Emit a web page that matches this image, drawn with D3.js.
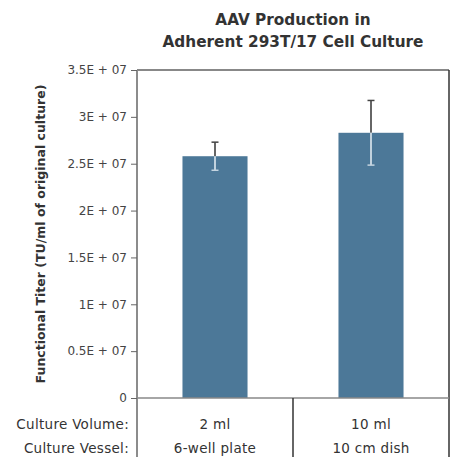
<!DOCTYPE html>
<html lang="en">
<head>
<meta charset="UTF-8">
<title>AAV Production</title>
<script src="https://d3js.org/d3.v7.min.js"></script>
<style>
    body { margin: 0; background: #fff; }
    text { font-family: "DejaVu Sans", sans-serif; }
    .tick text { fill: #444; font-size: 12px; }
    .title { font-weight: bold; font-size: 15.3px; fill: #333; }
    .ylab { font-weight: bold; font-size: 12.5px; fill: #333; }
    .tbl { font-size: 13.5px; fill: #333; letter-spacing: 0.3px; }
</style>
</head>
<body>
<svg width="457" height="457"></svg>
<script>
    // chart data
    var volumes  = ["2 ml", "10 ml"];
    var vessels  = ["6-well plate", "10 cm dish"];
    var titers   = [2.58e7, 2.83e7];
    var errors   = [0.15e7, 0.345e7];
    var tickVals = [0, 0.5e7, 1e7, 1.5e7, 2e7, 2.5e7, 3e7, 3.5e7];
    var tickLbls = ["0", "0.5E + 07", "1E + 07", "1.5E + 07", "2E + 07", "2.5E + 07", "3E + 07", "3.5E + 07"];

    var svg = d3.select("svg");
    var pLeft = 137, pRight = 449, pTop = 70, pBottom = 398;

    var x = d3.scaleBand().domain(volumes).range([pLeft, pRight])
        .paddingInner(0.583).paddingOuter(0.2915);
    var xCell = d3.scaleBand().domain(volumes).range([pLeft, pRight]);
    var y = d3.scaleLinear().domain([0, 3.5e7]).range([pBottom, pTop]);

    // title
    var cx = (pLeft + pRight) / 2;
    var title = svg.append("text").attr("class", "title").attr("text-anchor", "middle");
    title.append("tspan").attr("x", cx).attr("y", 25).text("AAV Production in");
    title.append("tspan").attr("x", cx).attr("y", 47).text("Adherent 293T/17 Cell Culture");

    // y axis label
    svg.append("text").attr("class", "ylab")
        .attr("text-anchor", "middle")
        .attr("transform", "translate(45," + ((pTop + pBottom) / 2) + ") rotate(-90)")
        .text("Functional Titer (TU/ml of original culture)");

    // bars
    svg.selectAll("rect.bar").data(titers).enter().append("rect")
        .attr("class", "bar")
        .attr("x", function(d, i) { return x(volumes[i]); })
        .attr("width", x.bandwidth())
        .attr("y", function(d) { return y(d); })
        .attr("height", function(d) { return y(0) - y(d); })
        .attr("fill", "#4c7898");

    // error bars: dark above the bar, light inside it
    var eb = svg.selectAll("g.err").data(titers).enter().append("g")
        .attr("transform", function(d, i) { return "translate(" + (x(volumes[i]) + x.bandwidth() / 2) + ",0)"; });
    eb.append("line")
        .attr("y1", function(d, i) { return y(d + errors[i]); })
        .attr("y2", function(d) { return y(d); })
        .attr("stroke", "#333").attr("stroke-width", 1.5);
    eb.append("line")
        .attr("x1", -3.5).attr("x2", 3.5)
        .attr("y1", function(d, i) { return y(d + errors[i]); })
        .attr("y2", function(d, i) { return y(d + errors[i]); })
        .attr("stroke", "#444").attr("stroke-width", 1.5);
    eb.append("line")
        .attr("y1", function(d) { return y(d); })
        .attr("y2", function(d, i) { return y(d - errors[i]); })
        .attr("stroke", "#e8f0f6").attr("stroke-width", 1.5);
    eb.append("line")
        .attr("x1", -3.5).attr("x2", 3.5)
        .attr("y1", function(d, i) { return y(d - errors[i]); })
        .attr("y2", function(d, i) { return y(d - errors[i]); })
        .attr("stroke", "#c4d4e0").attr("stroke-width", 1.5);

    // y axis
    var yAxis = svg.append("g")
        .attr("transform", "translate(" + pLeft + ",0)")
        .call(d3.axisLeft(y).tickValues(tickVals).tickSize(6).tickPadding(4)
            .tickFormat(function(d, i) { return tickLbls[i]; }));
    yAxis.select(".domain").remove();
    yAxis.selectAll(".tick line").attr("stroke", "#666");

    // frame and table lines
    svg.append("line").attr("x1", pLeft).attr("x2", pLeft).attr("y1", pTop).attr("y2", 457)
        .attr("stroke", "#666").attr("stroke-width", 1.5);
    svg.append("line").attr("x1", pLeft).attr("x2", pRight).attr("y1", pTop).attr("y2", pTop)
        .attr("stroke", "#888").attr("stroke-width", 2);
    svg.append("line").attr("x1", pRight).attr("x2", pRight).attr("y1", pTop).attr("y2", 457)
        .attr("stroke", "#333").attr("stroke-width", 1.5);
    svg.append("line").attr("x1", pLeft).attr("x2", pRight).attr("y1", pBottom).attr("y2", pBottom)
        .attr("stroke", "#888").attr("stroke-width", 1.5);
    svg.append("line").attr("x1", xCell(volumes[1])).attr("x2", xCell(volumes[1]))
        .attr("y1", pBottom).attr("y2", 457)
        .attr("stroke", "#333").attr("stroke-width", 1.5);

    // table under the chart
    svg.append("text").attr("class", "tbl").attr("text-anchor", "end")
        .attr("x", 129).attr("y", 429).text("Culture Volume:");
    svg.append("text").attr("class", "tbl").attr("text-anchor", "end")
        .attr("x", 129).attr("y", 453).text("Culture Vessel:");
    svg.selectAll("text.vol").data(volumes).enter().append("text")
        .attr("class", "tbl vol").attr("text-anchor", "middle")
        .attr("x", function(d) { return xCell(d) + xCell.bandwidth() / 2; })
        .attr("y", 429).text(function(d) { return d; });
    svg.selectAll("text.ves").data(vessels).enter().append("text")
        .attr("class", "tbl ves").attr("text-anchor", "middle")
        .attr("x", function(d, i) { return xCell(volumes[i]) + xCell.bandwidth() / 2; })
        .attr("y", 453).text(function(d) { return d; });
</script>
</body>
</html>
